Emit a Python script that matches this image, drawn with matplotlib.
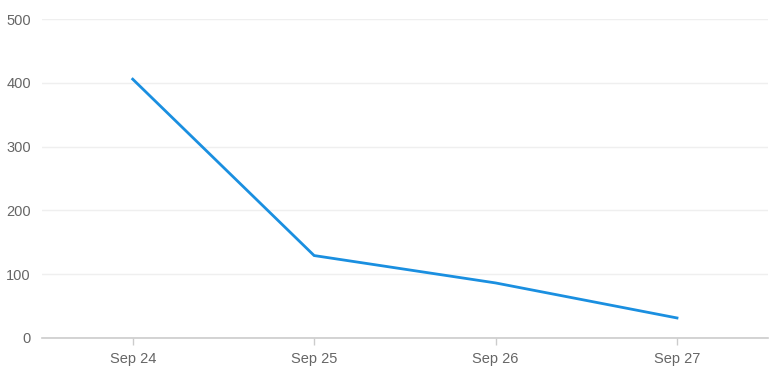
"""Daily count line chart."""

import matplotlib.pyplot as plt

DATES = ["Sep 24", "Sep 25", "Sep 26", "Sep 27"]
COUNTS = [406, 129, 86, 31]
Y_TICKS = [0, 100, 200, 300, 400, 500]

plt.rcParams["font.family"] = ["Liberation Sans", "DejaVu Sans"]

fig = plt.figure(figsize=(7.78, 3.76), dpi=100)
ax = fig.add_axes([42 / 778, 38.3 / 376, 725.7 / 778, 318.4 / 376])

positions = list(range(len(DATES)))
ax.plot(positions, COUNTS, color="#1a8fe0", linewidth=2, solid_joinstyle="miter")

ax.set_xlim(-0.5, len(DATES) - 0.5)
ax.set_ylim(0, 500)
ax.set_xticks(positions)
ax.set_xticklabels(DATES)
ax.set_yticks(Y_TICKS)

ax.grid(axis="y", color="#efefef", linewidth=1)
ax.set_axisbelow(True)
for side in ["top", "right", "left"]:
    ax.spines[side].set_visible(False)
ax.spines["bottom"].set_color("#cccccc")
ax.spines["bottom"].set_linewidth(1.2)

ax.tick_params(axis="x", colors="#cccccc", length=5, width=1, labelcolor="#666666",
               labelsize=10.5, pad=5)
ax.tick_params(axis="y", length=0, labelcolor="#666666", labelsize=10.5, pad=8)

fig.savefig("out.png", dpi=100, facecolor="white")
